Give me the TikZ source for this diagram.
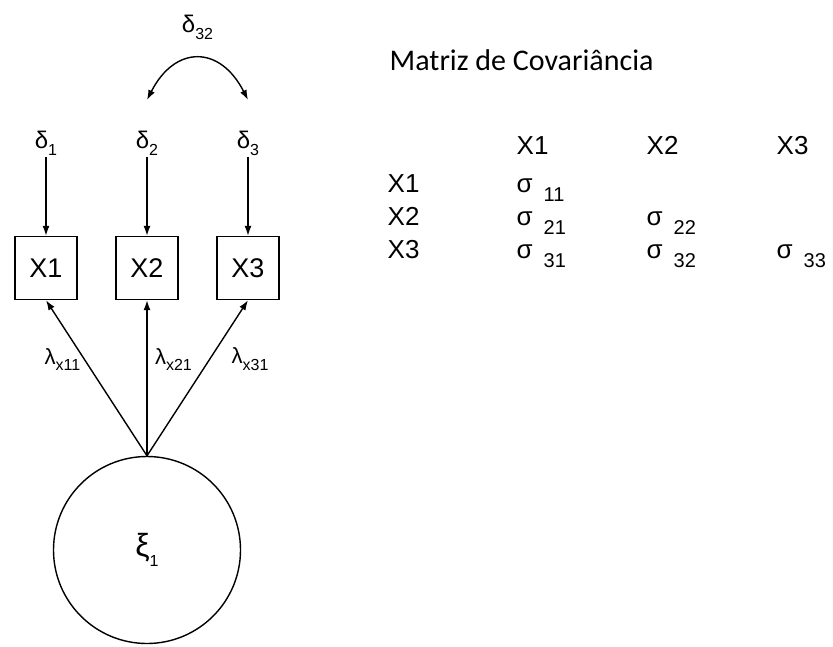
\documentclass[tikz,border=0pt]{standalone}
\usepackage{fontspec}
\setmainfont{Liberation Sans}
\newfontfamily\titlefont{Carlito}
\usetikzlibrary{calc,arrows.meta}

\newcommand{\sig}[1]{σ\hspace{0.42em}\raisebox{-0.36em}{\fontsize{20}{22}\selectfont #1}}
\newcommand{\low}[1]{\raisebox{-0.3em}{\fontsize{16}{18}\selectfont #1}}

\begin{document}
\begin{tikzpicture}[x=1pt,y=-1pt,>={Latex[length=10pt,width=7pt]},line width=1.4pt,
    var node/.style={rectangle,draw,minimum width=62pt,minimum height=63pt,inner sep=0pt,font=\fontsize{27}{30}\selectfont},
    lat node/.style={circle,draw,minimum size=187pt,inner sep=0pt,font=\fontsize{32}{36}\selectfont},
    err node/.style={inner sep=1pt,font=\fontsize{24}{28}\selectfont},
    mat node/.style={anchor=base west,inner sep=0pt,font=\fontsize{26}{30}\selectfont}]

    \useasboundingbox (0,0) rectangle (833,646);

    \node (1) at (147,550) [lat node]{ξ\low{1}};

    \node (2) at ($(1)+(-101,-282)$) [var node]{X1};
    \node (3) at ($(1)+(0,-282)$) [var node]{X2};
    \node (4) at ($(1)+(101,-282)$) [var node]{X3};

    \node (5) at ($(2)+(0,-125)$) [err node]{δ\low{1}};
    \node (6) at ($(3)+(0,-125)$) [err node]{δ\low{2}};
    \node (7) at ($(4)+(0,-125)$) [err node]{δ\low{3}};

    \coordinate (a) at ($(3)+(0,-168)$);
    \coordinate (b) at ($(4)+(0,-168)$);
    \node (8) at ($(a)!0.5!(b)+(0,-73)$) [err node]{δ\low{32}};

    \draw[<->] (a) .. controls ($(a)+(28,-55)$) and ($(b)+(-28,-55)$) .. (b);

    \path[->,every node/.style={font=\fontsize{22}{24}\selectfont}]
        (5) edge (2)
        (6) edge (3)
        (7) edge (4)

        (1.north) edge node[pos=0.62,left=0pt]{λ\low{x11}} (2.south)
        (1.north) edge node[pos=0.62,right=4pt]{λ\low{x21}} (3.south)
        (1.north) edge node[pos=0.62,right=18pt]{λ\low{x31}} (4.south)
    ;

    % covariance matrix
    \node (9) at (389,70) [anchor=base west,inner sep=0pt,font=\titlefont\fontsize{30}{34}\selectfont]{Matriz de Covariância};

    \node (10) at (516,154) [mat node]{X1};
    \node (11) at (646,154) [mat node]{X2};
    \node (12) at (776,154) [mat node]{X3};

    \node (13) at (387,192) [mat node]{X1};
    \node (14) at (387,225) [mat node]{X2};
    \node (15) at (387,258) [mat node]{X3};

    \node (16) at (516,192) [mat node]{\sig{11}};
    \node (17) at (516,225) [mat node]{\sig{21}};
    \node (18) at (516,258) [mat node]{\sig{31}};
    \node (19) at (646,225) [mat node]{\sig{22}};
    \node (20) at (646,258) [mat node]{\sig{32}};
    \node (21) at (776,258) [mat node]{\sig{33}};
\end{tikzpicture}
\end{document}
